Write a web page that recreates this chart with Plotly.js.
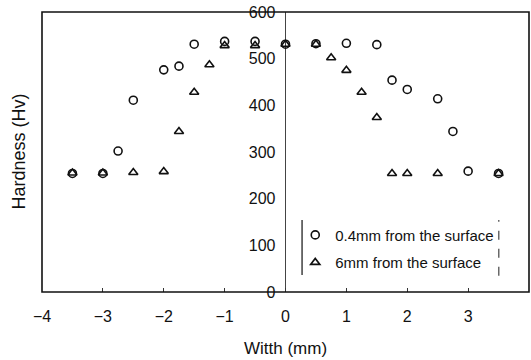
<!DOCTYPE html>
<html>
<head>
<meta charset="utf-8">
<script src="https://cdn.plot.ly/plotly-3.0.1.min.js"></script>
<style>html,body{margin:0;padding:0;background:#fff;}#chart{width:531px;height:360px;}</style>
</head>
<body>
<div id="chart"></div>
<script>
// Hardness profile data
const widthA = [-3.5, -3, -2.75, -2.5, -2, -1.75, -1.5, -1, -0.5, 0, 0.5, 1, 1.5, 1.75, 2, 2.5, 2.75, 3, 3.5];
const hardA  = [254, 254, 302, 411, 476, 484, 531, 537, 537, 531, 532, 533, 530, 454, 434, 414, 344, 259, 254];
const widthB = [-3.5, -3, -2.5, -2, -1.75, -1.5, -1.25, -1, -0.5, 0, 0.5, 0.75, 1, 1.25, 1.5, 1.75, 2, 2.5, 3.5];
const hardB  = [255, 255, 256, 258, 344, 428, 487, 528, 528, 531, 531, 502, 475, 428, 374, 254, 254, 254, 254];
const seriesNames = ["0.4mm from the surface", "6mm from the surface"];
const xTicks = [-4, -3, -2, -1, 0, 1, 2, 3, 4];
const yTicks = [0, 100, 200, 300, 400, 500, 600];

const FONT = "Liberation Sans, Arial, sans-serif";

const traces = [
  {x: widthA, y: hardA, name: seriesNames[0], type: "scatter", mode: "markers", legendgroup: "a",
   marker: {symbol: "circle-open", size: 8, color: "#111", line: {width: 1.6, color: "#111"}}},
  {x: widthB, y: hardB, name: seriesNames[1], type: "scatter", mode: "markers", legendgroup: "b",
   marker: {symbol: "triangle-up-open", size: 8, color: "#111", line: {width: 1.6, color: "#111"}}}
];

const layout = {
  width: 531, height: 360,
  margin: {l: 42, r: 2, t: 12, b: 68},
  paper_bgcolor: "#fff", plot_bgcolor: "#fff",
  font: {family: FONT, size: 15, color: "#111"},
  showlegend: true,
  legend: {x: 0.52, y: 0.262, xanchor: "left", yanchor: "top", bgcolor: "rgba(0,0,0,0)",
           borderwidth: 0, font: {family: FONT, size: 15, color: "#111"}, tracegroupgap: 5, itemwidth: 30},
  xaxis: {range: [-4, 4], tickvals: xTicks, ticks: "inside", ticklen: 4, tickcolor: "#333",
          showgrid: false, zeroline: true, zerolinecolor: "#444", zerolinewidth: 1,
          showline: false, ticklabelstandoff: 13, tickfont: {size: 16}},
  yaxis: {range: [0, 600], tickvals: yTicks, anchor: "free", position: 0.5, side: "left",
          ticks: "", showgrid: false, zeroline: false, showline: false,
          ticklabelstandoff: 10, tickfont: {size: 16}},
  shapes: [
    {type: "rect", xref: "paper", yref: "paper", x0: 0, x1: 1, y0: 0, y1: 1, line: {color: "#111", width: 1.6}},
    {type: "line", xref: "paper", yref: "paper", x0: 0.534, x1: 0.534, y0: 0.061, y1: 0.257, line: {color: "#222", width: 1.3}},
    {type: "line", xref: "paper", yref: "paper", x0: 0.938, x1: 0.938, y0: 0.058, y1: 0.257, line: {color: "#444", width: 1.2, dash: "dash"}}
  ],
  annotations: [
    {text: "Witth (mm)", xref: "paper", yref: "paper", x: 0.5, y: -0.2, xanchor: "center", yanchor: "middle",
     showarrow: false, font: {family: FONT, size: 17, color: "#111"}},
    {text: "Hardness (Hv)", xref: "paper", yref: "paper", x: -0.048, y: 0.5, xanchor: "center", yanchor: "middle",
     textangle: -90, showarrow: false, font: {family: FONT, size: 18, color: "#111"}}
  ]
};

Plotly.newPlot("chart", traces, layout, {staticPlot: true, displayModeBar: false});
</script>
</body>
</html>
